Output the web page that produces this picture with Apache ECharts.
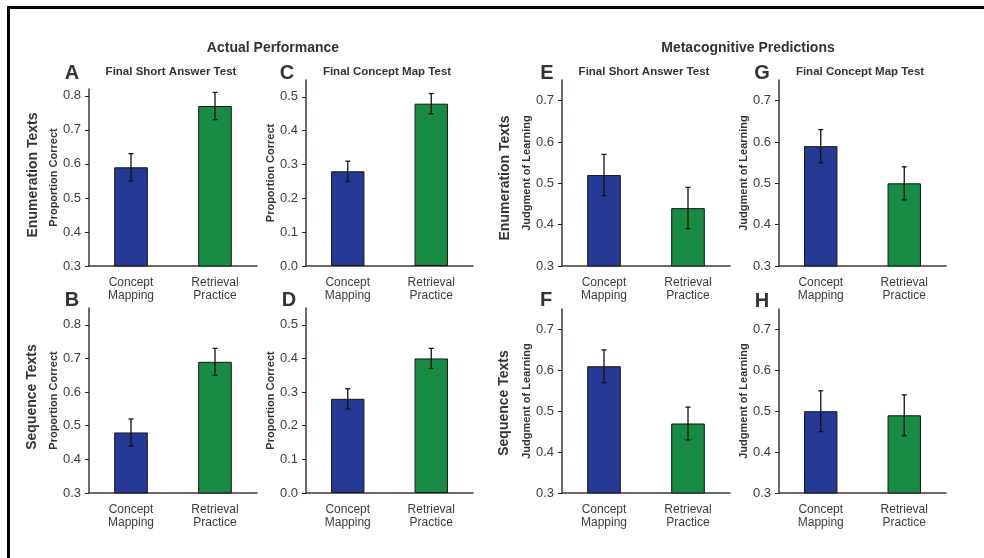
<!DOCTYPE html>
<html>
<head>
<meta charset="utf-8">
<script src="https://cdn.jsdelivr.net/npm/echarts@6/dist/echarts.min.js"></script>
<style>
  html, body { margin: 0; padding: 0; background: #fff; }
  #main { width: 984px; height: 558px; }
</style>
</head>
<body>
<div id="main"></div>
<script>
// categories shared by every panel
const categories = ['Concept\nMapping', 'Retrieval\nPractice'];

// Actual performance (proportion correct), mean and half error bar
const meansA = [0.59, 0.77]; const errA = [0.04, 0.04]; // enumeration, short answer
const meansB = [0.48, 0.69]; const errB = [0.04, 0.04]; // sequence, short answer
const meansC = [0.28, 0.48]; const errC = [0.03, 0.03]; // enumeration, concept map
const meansD = [0.28, 0.40]; const errD = [0.03, 0.03]; // sequence, concept map

// Metacognitive predictions (judgment of learning)
const meansE = [0.52, 0.44]; const errE = [0.05, 0.05];
const meansF = [0.61, 0.47]; const errF = [0.04, 0.04];
const meansG = [0.59, 0.50]; const errG = [0.04, 0.04];
const meansH = [0.50, 0.49]; const errH = [0.05, 0.05];

// tick labels
const ticksShort = [0.3, 0.4, 0.5, 0.6, 0.7, 0.8];
const ticksMap = [0.0, 0.1, 0.2, 0.3, 0.4, 0.5];
const ticksJol = [0.3, 0.4, 0.5, 0.6, 0.7];

const FONT = '"Liberation Sans", Arial, Helvetica, sans-serif';
const AXIS_COLOR = '#4a3430';
const TEXT_COLOR = '#3c3c3c';
const BAR_COLORS = ['#253893', '#188c45'];

const panels = [
  { means: meansA, err: errA, ticks: ticksShort, min: 0.3, max: 0.82, name: 'Proportion Correct', grid: { left: 89, top: 89, width: 168, height: 177 } },
  { means: meansC, err: errC, ticks: ticksMap, min: 0, max: 0.55, name: 'Proportion Correct', grid: { left: 306, top: 80, width: 167, height: 186 } },
  { means: meansE, err: errE, ticks: ticksJol, min: 0.3, max: 0.75, name: 'Judgment of Learning', grid: { left: 562, top: 80, width: 168, height: 186 } },
  { means: meansG, err: errG, ticks: ticksJol, min: 0.3, max: 0.75, name: 'Judgment of Learning', grid: { left: 779, top: 80, width: 167, height: 186 } },
  { means: meansB, err: errB, ticks: ticksShort, min: 0.3, max: 0.85, name: 'Proportion Correct', grid: { left: 89, top: 308, width: 168, height: 185 } },
  { means: meansD, err: errD, ticks: ticksMap, min: 0, max: 0.55, name: 'Proportion Correct', grid: { left: 306, top: 308, width: 167, height: 185 } },
  { means: meansF, err: errF, ticks: ticksJol, min: 0.3, max: 0.75, name: 'Judgment of Learning', grid: { left: 562, top: 309, width: 168, height: 184 } },
  { means: meansH, err: errH, ticks: ticksJol, min: 0.3, max: 0.75, name: 'Judgment of Learning', grid: { left: 779, top: 309, width: 167, height: 184 } }
];

const grids = [], xAxes = [], yAxes = [], series = [];

panels.forEach((p, i) => {
  grids.push(p.grid);
  xAxes.push({
    type: 'category',
    gridIndex: i,
    data: categories,
    axisLine: { lineStyle: { color: AXIS_COLOR, width: 1.5 } },
    axisTick: { show: false },
    axisLabel: { color: TEXT_COLOR, fontFamily: FONT, fontSize: 12, lineHeight: 13, margin: 10 }
  });
  yAxes.push({
    type: 'value',
    gridIndex: i,
    min: p.min,
    max: p.max,
    interval: 0.1,
    name: p.name,
    nameLocation: 'middle',
    nameRotate: 90,
    nameGap: 28,
    nameTextStyle: { color: '#333', fontFamily: FONT, fontSize: 11, fontWeight: 'bold' },
    splitLine: { show: false },
    axisLine: { show: true, lineStyle: { color: AXIS_COLOR, width: 1.5 } },
    axisTick: { show: true, length: 4, customValues: p.ticks, lineStyle: { color: '#222' } },
    axisLabel: {
      customValues: p.ticks,
      color: TEXT_COLOR, fontFamily: FONT, fontSize: 13, margin: 8,
      formatter: v => v.toFixed(1)
    }
  });
  series.push({
    type: 'bar',
    xAxisIndex: i,
    yAxisIndex: i,
    barWidth: '40%',
    data: p.means.map((m, k) => ({
      value: m,
      itemStyle: { color: BAR_COLORS[k], borderColor: '#161616', borderWidth: 1 }
    })),
    silent: true
  });
  series.push({
    type: 'custom',
    xAxisIndex: i,
    yAxisIndex: i,
    data: p.means.map((m, k) => [k, m - p.err[k], m + p.err[k]]),
    z: 10,
    renderItem: function (params, api) {
      const lo = api.coord([api.value(0), api.value(1)]);
      const hi = api.coord([api.value(0), api.value(2)]);
      const cap = 2.5;
      const style = { stroke: '#111', lineWidth: 1.3 };
      return {
        type: 'group',
        children: [
          { type: 'line', shape: { x1: lo[0], y1: lo[1], x2: hi[0], y2: hi[1] }, style },
          { type: 'line', shape: { x1: lo[0] - cap, y1: lo[1], x2: lo[0] + cap, y2: lo[1] }, style },
          { type: 'line', shape: { x1: hi[0] - cap, y1: hi[1], x2: hi[0] + cap, y2: hi[1] }, style }
        ]
      };
    }
  });
});

function txt(text, x, y, size, opts) {
  return Object.assign({
    type: 'text', x, y,
    style: {
      text, fill: '#333', font: 'bold ' + size + 'px ' + FONT,
      textAlign: 'center', textVerticalAlign: 'middle'
    }
  }, opts || {});
}

const graphic = [
  // frame
  { type: 'line', shape: { x1: 7, y1: 7.5, x2: 984, y2: 7.5 }, style: { stroke: '#000', lineWidth: 3 } },
  { type: 'line', shape: { x1: 8.5, y1: 6, x2: 8.5, y2: 558 }, style: { stroke: '#000', lineWidth: 3 } },
  // headings
  txt('Actual Performance', 273, 48, 14),
  txt('Metacognitive Predictions', 748, 48, 14),
  // panel letters
  txt('A', 72, 73, 20), txt('C', 287, 73, 20), txt('E', 547, 73, 20), txt('G', 762, 73, 20),
  txt('B', 72, 300, 20), txt('D', 289, 300, 20), txt('F', 546, 300, 20), txt('H', 762, 301, 20),
  // subtitles
  txt('Final Short Answer Test', 171, 72, 11.5), txt('Final Concept Map Test', 387, 72, 11.5),
  txt('Final Short Answer Test', 644, 72, 11.5), txt('Final Concept Map Test', 860, 72, 11.5),
  // row labels
  txt('Enumeration Texts', 33, 175, 14, { rotation: Math.PI / 2 }),
  txt('Sequence Texts', 32, 397, 14, { rotation: Math.PI / 2 }),
  txt('Enumeration Texts', 505, 178, 14, { rotation: Math.PI / 2 }),
  txt('Sequence Texts', 504, 403, 14, { rotation: Math.PI / 2 })
];

const chart = echarts.init(document.getElementById('main'));
chart.setOption({
  animation: false,
  backgroundColor: '#fff',
  grid: grids,
  xAxis: xAxes,
  yAxis: yAxes,
  series: series,
  graphic: graphic
});
</script>
</body>
</html>
